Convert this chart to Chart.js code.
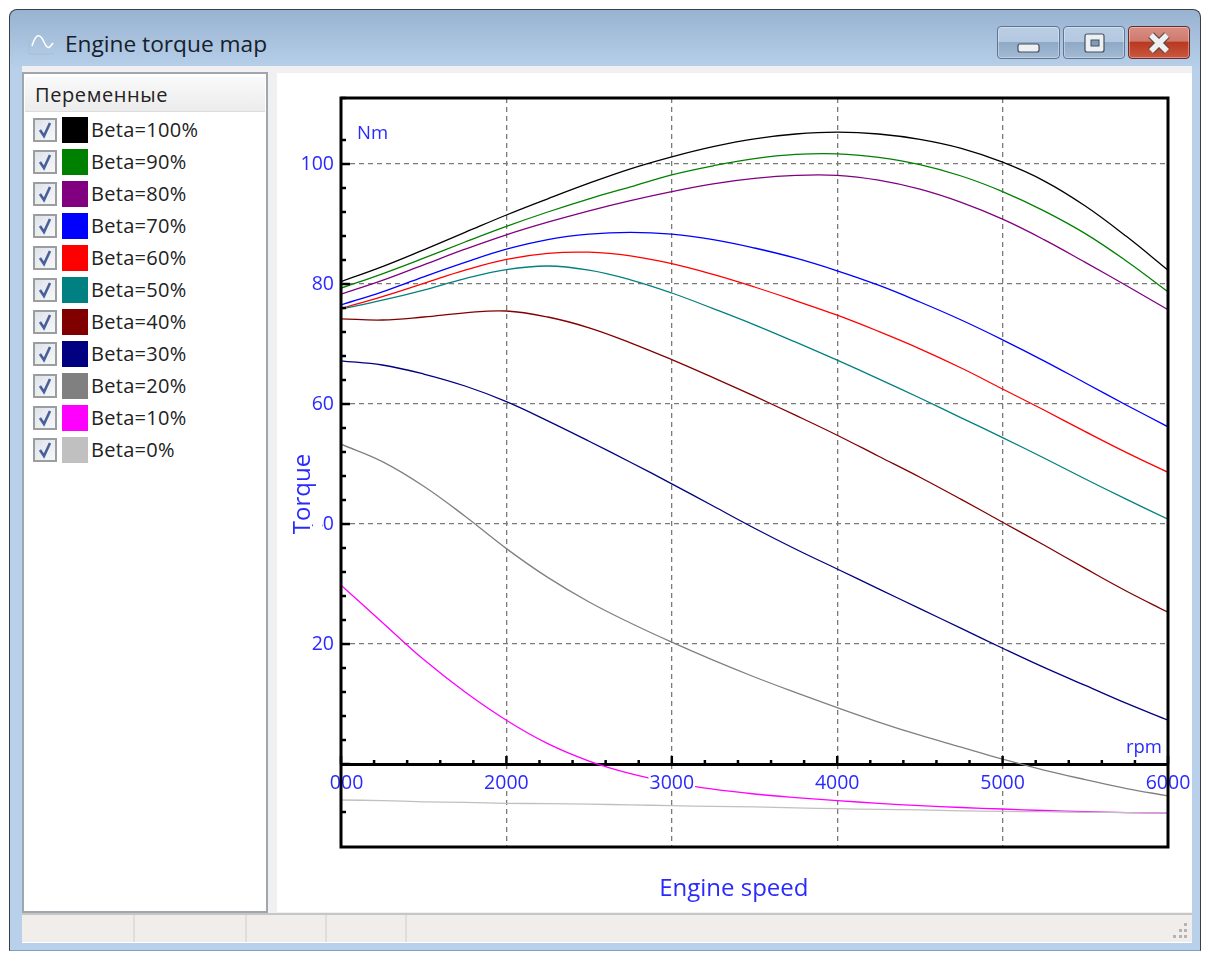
<!DOCTYPE html>
<html>
<head>
<meta charset="utf-8">
<title>Engine torque map</title>
<script src="https://cdn.jsdelivr.net/npm/chart.js@4/dist/chart.umd.min.js"></script>
<style>
html, body { margin: 0; padding: 0; background: #fff; }
body { width: 1207px; height: 953px; position: relative; overflow: hidden; font-family: "Open Sans", sans-serif; }
div { box-sizing: border-box; }
.win { position: absolute; left: 9px; top: 9px; width: 1192px; height: 942px; border: 1px solid #3a3f45; border-bottom-color: #7fa0c4; border-radius: 8px 8px 0 0;
  background: linear-gradient(#98b3d1 0, #b8d0ea 60px, #b8d0ea 100%); }
.title { position: absolute; left: 65px; top: 29px; font-size: 22.7px; line-height: 30px; color: #15202c; }
.icon { position: absolute; left: 28px; top: 30px; }
.btn { position: absolute; top: 26px; height: 33px; border: 1px solid #5f7590; border-radius: 4px; box-shadow: inset 0 0 0 1px rgba(255,255,255,.35);
  background: linear-gradient(#b9cde3 0, #b4c9e1 48%, #8fa9c6 50%, #a3bad4 100%); }
.btn svg { position: absolute; left: 0; top: 0; }
.btn.close { border-color: #6a2a30; background: linear-gradient(#d98f84 0, #cf7a6e 45%, #b9391f 50%, #c9583f 100%); }
.content { position: absolute; left: 22px; top: 66px; width: 1170px; height: 877px; background: #f0f0f0; }
.vars { position: absolute; left: 22px; top: 72px; width: 246px; height: 841px; background: #fff; border: 2px solid #a0a6ad; }
.vars .head { position: absolute; left: 1px; top: 3px; width: 240px; height: 35px; padding-left: 10px; font-size: 20px; line-height: 35px; color: #222;
  background: linear-gradient(#f9f9f9, #ececec); border-bottom: 1px solid #dcdcdc; letter-spacing: .6px; }
.item { position: absolute; left: 0; width: 240px; height: 28px; }
.item .chk { position: absolute; left: 9px; top: 2px; width: 24px; height: 24px; border: 2px solid #9a9ea3; background: linear-gradient(135deg, #dfe3e8, #f6f7f9); }
.item .chk svg { position: absolute; left: 0; top: 0; }
.item .sw { position: absolute; left: 38px; top: 1px; width: 26px; height: 26px; }
.item .txt { position: absolute; left: 67px; top: 0; font-size: 20px; line-height: 28px; color: #222; letter-spacing: .3px; white-space: nowrap; }
.plot { position: absolute; left: 277px; top: 73px; width: 915px; height: 839px; background: #fff; }
canvas { display: block; }
.status { position: absolute; left: 22px; top: 913px; width: 1170px; height: 30px; background: #f0edeb; border-top: 2px solid #c6c6c6; border-bottom: 1px solid #fff; }
.status i { position: absolute; top: 0; width: 2px; height: 27px; background: #e0dedc; }
</style>
</head>
<body>
<div class="win"></div>
<svg class="icon" width="28" height="26"><path d="M1 1V24H26" fill="none" stroke="#a9bdd3" stroke-width="1"/><path d="M4 16C8 3 12 3 16 12S22 17 25 13" fill="none" stroke="#fff" stroke-width="1.6"/></svg>
<div class="title">Engine torque map</div>
<div class="btn" style="left:997px;width:63px"><svg width="61" height="31"><rect x="20" y="17" width="21" height="8" rx="2" fill="#eef1f4" stroke="#46505c" stroke-width="1.2"/></svg></div>
<div class="btn" style="left:1063px;width:62px"><svg width="60" height="31"><rect x="21" y="7" width="19" height="18" rx="2" fill="#eef1f4" stroke="#46505c" stroke-width="1.2"/><rect x="27" y="13" width="8" height="6" fill="#7f9cbd" stroke="#46505c"/></svg></div>
<div class="btn close" style="left:1128px;width:62px"><svg width="60" height="31"><path d="M22 8L38 24M38 8L22 24" stroke="#5a4a48" stroke-width="8"/><path d="M22 8L38 24M38 8L22 24" stroke="#f0f0f0" stroke-width="5.5"/></svg></div>
<div class="content"></div>
<div class="vars" id="vars"><div class="head">Переменные</div></div>
<div class="plot"><canvas id="torqueChart" width="915" height="839"></canvas></div>
<div class="status"><i style="left:111px"></i><i style="left:223px"></i><i style="left:303px"></i><i style="left:383px"></i>
<svg style="position:absolute;left:1148px;top:6px" width="20" height="20"><g fill="#b4b4b4"><rect x="14" y="2" width="3" height="3"/><rect x="9" y="8" width="3" height="3"/><rect x="14" y="8" width="3" height="3"/><rect x="3" y="14" width="3" height="3"/><rect x="9" y="14" width="3" height="3"/><rect x="14" y="14" width="3" height="3"/></g></svg></div>

<script>
// Engine torque map

const rpm = [1000, 1250, 1500, 1750, 2000, 2250, 2500, 2750, 3000, 3250, 3500, 3750, 4000, 4250, 4500, 4750, 5000, 5250, 5500, 5750, 6000];

const seriesNames = ['Beta=100%', 'Beta=90%', 'Beta=80%', 'Beta=70%', 'Beta=60%', 'Beta=50%', 'Beta=40%', 'Beta=30%', 'Beta=20%', 'Beta=10%', 'Beta=0%'];
const seriesColors = ['#000000', '#008000', '#800080', '#0000ff', '#ff0000', '#008080', '#800000', '#000080', '#808080', '#ff00ff', '#c0c0c0'];

const beta100 = [80.4, 82.9, 85.7, 88.6, 91.5, 94.2, 96.8, 99.2, 101.2, 102.9, 104.2, 105.0, 105.3, 105.0, 104.1, 102.6, 100.3, 97.2, 93.0, 87.9, 82.3];
const beta90 = [79.3, 81.7, 84.3, 87.0, 89.6, 92.0, 94.2, 96.2, 98.2, 99.7, 100.9, 101.6, 101.7, 101.1, 99.9, 98.0, 95.4, 92.2, 88.4, 83.8, 78.7];
const beta80 = [78.3, 80.6, 83.2, 85.8, 88.2, 90.3, 92.2, 93.9, 95.4, 96.7, 97.6, 98.1, 98.1, 97.3, 95.8, 93.6, 90.8, 87.4, 83.6, 79.7, 75.7];
const beta70 = [76.5, 78.7, 81.2, 83.6, 85.8, 87.4, 88.3, 88.6, 88.3, 87.4, 86.0, 84.3, 82.2, 79.8, 77.0, 74.0, 70.7, 67.2, 63.5, 59.8, 56.2];
const beta60 = [75.9, 77.9, 80.1, 82.3, 84.1, 85.1, 85.3, 84.7, 83.4, 81.6, 79.5, 77.2, 74.8, 72.1, 69.2, 66.0, 62.5, 59.0, 55.4, 51.9, 48.6];
const beta50 = [75.8, 77.3, 79.0, 80.9, 82.4, 83.0, 82.3, 80.7, 78.5, 75.9, 73.2, 70.3, 67.3, 64.2, 61.0, 57.7, 54.4, 51.0, 47.5, 44.1, 40.8];
const beta40 = [74.2, 74.0, 74.5, 75.2, 75.5, 74.5, 72.7, 70.2, 67.4, 64.4, 61.3, 58.1, 54.8, 51.3, 47.8, 44.1, 40.3, 36.5, 32.6, 28.8, 25.3];
const beta30 = [67.2, 66.5, 65.0, 63.0, 60.4, 57.2, 53.8, 50.3, 46.7, 43.0, 39.3, 35.8, 32.5, 29.2, 25.9, 22.6, 19.3, 16.1, 13.1, 10.1, 7.3];
const beta20 = [53.3, 50.4, 46.3, 41.3, 35.9, 31.1, 27.0, 23.5, 20.3, 17.3, 14.5, 11.9, 9.4, 7.0, 4.8, 2.8, 0.8, -1.0, -2.6, -4.1, -5.3];
const beta10 = [29.8, 23.6, 17.4, 12.0, 7.3, 3.4, 0.5, -1.6, -3.1, -4.2, -5.0, -5.6, -6.1, -6.55, -6.95, -7.25, -7.5, -7.75, -7.95, -8.1, -8.2];
const beta0 = [-6.0, -6.1, -6.3, -6.4, -6.55, -6.6, -6.7, -6.8, -6.95, -7.05, -7.15, -7.3, -7.45, -7.55, -7.65, -7.8, -7.9, -7.95, -8.05, -8.1, -8.2];
const allSeries = [beta100, beta90, beta80, beta70, beta60, beta50, beta40, beta30, beta20, beta10, beta0];

const xTickLabels = [1000, 2000, 3000, 4000, 5000, 6000];
const yTickLabels = [20, 40, 60, 80, 100];

const BLUE = '#2a2aff';
const FONT = '"Open Sans", sans-serif';
const TICK_FONT = '19.5px ' + FONT;

// variables list on the left
function initVariables() {
    const box = document.getElementById('vars');
    seriesNames.forEach((name, i) => {
        const row = document.createElement('div');
        row.className = 'item';
        row.style.top = (42 + i * 32) + 'px';
        row.innerHTML = '<div class="chk"><svg width="20" height="20"><path d="M5 10L9 16L15 3" fill="none" stroke="#4a5f9c" stroke-width="2.6"/></svg></div>' +
            '<div class="sw" style="background:' + seriesColors[i] + '"></div><div class="txt">' + name + '</div>';
        box.appendChild(row);
    });
}

// ticks sit inside the frame, frame goes over the labels
const frameAndTicks = {
    id: 'frameAndTicks',
    afterDatasetsDraw(chart) {
        const { ctx, chartArea: a, scales: { x, y } } = chart;
        ctx.save();
        ctx.strokeStyle = '#000';
        ctx.lineWidth = 2.5;
        y.ticks.forEach(t => {
            if (Math.round(t.value) !== t.value) return;
            const py = y.getPixelForValue(t.value);
            const len = yTickLabels.includes(t.value) || t.value === 0 ? 9 : 5;
            ctx.beginPath(); ctx.moveTo(a.left, py); ctx.lineTo(a.left + len, py); ctx.stroke();
        });
        const y0 = y.getPixelForValue(0);
        x.ticks.forEach(t => {
            const px = x.getPixelForValue(t.value);
            const len = xTickLabels.includes(t.value) ? 8 : 4;
            ctx.beginPath(); ctx.moveTo(px, y0); ctx.lineTo(px, y0 - len); ctx.stroke();
        });
        ctx.fillStyle = BLUE;
        ctx.font = '18.5px ' + FONT;
        ctx.textBaseline = 'middle';
        ctx.textAlign = 'left';
        ctx.fillText('Nm', a.left + 16, y.getPixelForValue(105));
        ctx.textAlign = 'right';
        ctx.fillText('rpm', a.right - 6, y0 - 16);
        ctx.restore();
    },
    afterDraw(chart) {
        const { ctx, chartArea: a, scales: { x, y } } = chart;
        ctx.save();
        // first digit of 1000 and 40 is cut off in the original window
        ctx.font = TICK_FONT;
        ctx.fillStyle = '#fff';
        const w1000 = ctx.measureText('1000').width;
        const digit = ctx.measureText('0').width;
        ctx.fillRect(x.getPixelForValue(1000) - w1000 / 2 - 2, y.getPixelForValue(0) + 8, digit + 1, 26);
        ctx.fillRect(a.left - 28, y.getPixelForValue(40) - 11, 9, 22);
        ctx.strokeStyle = '#000';
        ctx.lineWidth = 3;
        ctx.strokeRect(a.left, a.top, a.right - a.left, a.bottom - a.top);
        // axis titles sit off-centre in the original
        ctx.fillStyle = BLUE;
        ctx.font = '24px ' + FONT;
        ctx.textAlign = 'center';
        ctx.textBaseline = 'middle';
        ctx.fillText('Engine speed', x.getPixelForValue(3375), a.bottom + 42);
        ctx.translate(a.left - 38, y.getPixelForValue(45));
        ctx.rotate(-Math.PI / 2);
        ctx.fillText('Torque', 0, 0);
        ctx.restore();
    }
};

function initChart() {
    new Chart(document.getElementById('torqueChart'), {
        type: 'line',
        plugins: [frameAndTicks],
        data: {
            datasets: allSeries.map((values, i) => ({
                label: seriesNames[i],
                data: values.map((v, j) => ({ x: rpm[j], y: v })),
                borderColor: seriesColors[i],
                borderWidth: 1.3,
                pointRadius: 0,
                tension: 0.4,
                order: allSeries.length - i
            }))
        },
        options: {
            responsive: false,
            animation: false,
            layout: { padding: { left: 0, top: 25, right: 24, bottom: 65 } },
            plugins: { legend: { display: false }, tooltip: { enabled: false } },
            scales: {
                x: {
                    type: 'linear',
                    position: { y: 0 },
                    min: 1000,
                    max: 6000,
                    afterFit: s => { s.paddingLeft = 0; s.paddingRight = 0; },
                    grid: {
                        drawTicks: false,
                        lineWidth: 1.3,
                        color: c => xTickLabels.includes(c.tick.value) ? '#7a7a7a' : 'transparent'
                    },
                    border: { display: true, color: '#000', width: 3, dash: [5, 4] },
                    ticks: {
                        stepSize: 200,
                        autoSkip: false,
                        maxRotation: 0,
                        padding: 8,
                        z: 1,
                        color: BLUE,
                        font: { family: FONT, size: 19.5 },
                        showLabelBackdrop: true,
                        backdropColor: c => xTickLabels.includes(c.tick.value) ? '#fff' : 'transparent',
                        backdropPadding: { left: 1, right: 1, top: -1, bottom: -5 },
                        callback: v => xTickLabels.includes(v) ? String(v) : ''
                    }
                },
                y: {
                    min: -13.83,
                    max: 111,
                    afterFit: s => { s.width = 64; },
                    grid: {
                        drawTicks: false,
                        lineWidth: 1.3,
                        color: c => yTickLabels.includes(c.tick.value) ? '#7a7a7a' : 'transparent'
                    },
                    border: { display: false, dash: [5, 4] },
                    ticks: {
                        stepSize: 4,
                        autoSkip: false,
                        padding: 7,
                        color: BLUE,
                        font: { family: FONT, size: 19.5 },
                        callback: v => yTickLabels.includes(v) ? String(v) : ''
                    }
                }
            }
        }
    });
}

initVariables();
initChart();
</script>
</body>
</html>
